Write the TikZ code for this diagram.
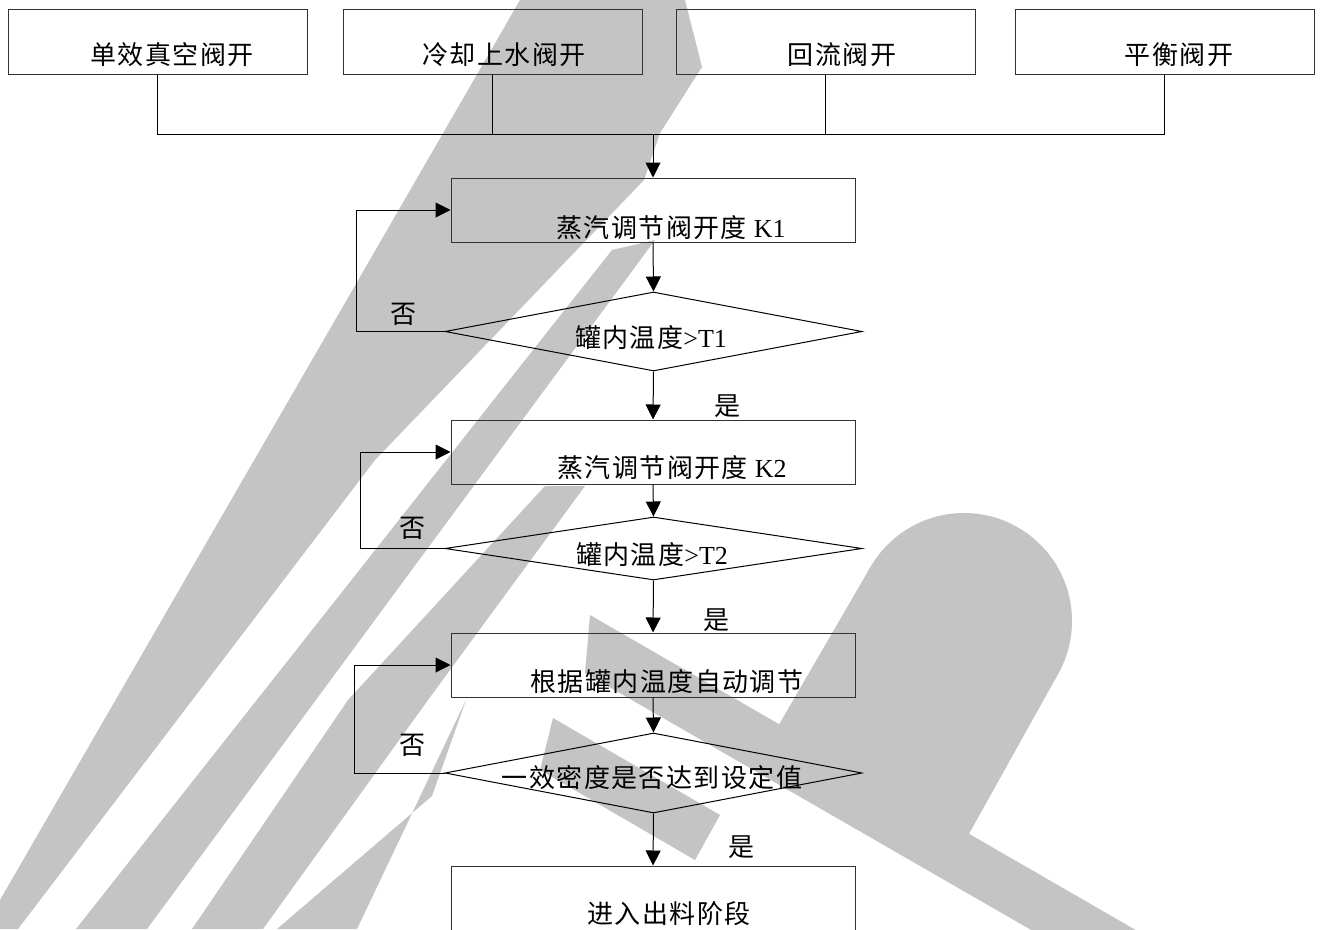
\documentclass[tikz,border=0pt]{standalone}
\usepackage{fontspec}
\setmainfont{Noto Sans CJK SC}[LetterSpace=5.5]
\newfontfamily\lat{Liberation Serif}
\usetikzlibrary{arrows.meta,shapes.geometric}
\definecolor{wmgray}{RGB}{196,196,196}
\definecolor{edge}{RGB}{50,50,50}
\begin{document}
\begin{tikzpicture}[x=1pt,y=-1pt,
  tbox/.style={draw=edge,line width=1pt,minimum width=299pt,minimum height=65pt,inner sep=0pt},
  box/.style={draw=edge,line width=1pt,minimum width=404pt,minimum height=64pt,inner sep=0pt},
  dec/.style={draw=black,line width=1pt,diamond,minimum width=417pt,inner sep=0pt},
  lbl/.style={inner sep=0pt,font=\fontsize{26}{26}\selectfont},
  conn/.style={draw=black,line width=1pt},
  arr/.style={conn,-{Triangle[length=15pt,width=15pt]}},
  wm/.style={fill=wmgray,draw=none}]
\path[use as bounding box] (0,0) rectangle (1322,929);
\clip (0,0) rectangle (1322,929);
\fill[white] (0,0) rectangle (1322,929);
% watermark
\path[wm] (520,0) -- (685,0) -- (702,67) -- (660,133) -- (644,180) -- (375,460) -- (18,929) -- (0,929) -- (0,900) -- cycle;
\path[wm] (612,250) -- (655,240) -- (147,929) -- (76,929) -- cycle;
\path[wm] (545,486) -- (585,486) -- (428,700) -- (263,929) -- (192,929) -- (348,700) -- cycle;
\path[wm] (466,700) -- (357,929) -- (277,929) -- (432,796) -- cycle;
\path[wm] (590,615) -- (1250,996) -- (1250,1056) -- (585,673) -- cycle;
\path[wm] (553,718) -- (720,815) -- (695,860) -- (540,770) -- cycle;
\path[wm] (964,621) circle[radius=108];
\path[wm] (870.5,567) -- (1057.5,675) -- (960,850) -- (770,740) -- cycle;
% top boxes
\node[tbox] (t1) at (157.5,41.5) {};
\node[tbox] (t2) at (492.5,41.5) {};
\node[tbox] (t3) at (825.5,41.5) {};
\node[tbox] (t4) at (1164.5,41.5) {};
\node[lbl] (t1l) at (172,55) {单效真空阀开};
\node[lbl] (t2l) at (504,55) {冷却上水阀开};
\node[lbl] (t3l) at (842,55) {回流阀开};
\node[lbl] (t4l) at (1179,55) {平衡阀开};
% main column
\node[box] (k1) at (653,210) {};
\node[lbl] (k1l) at (671,228) {蒸汽调节阀开度\hspace{7pt}{\lat K1}};
\node[dec,minimum height=79pt] (d1) at (653.5,331.5) {};
\node[lbl] (d1l) at (651,338) {罐内温度{\lat >T1}};
\node[box] (k2) at (653,452) {};
\node[lbl] (k2l) at (672,468) {蒸汽调节阀开度\hspace{7pt}{\lat K2}};
\node[dec,minimum height=63pt] (d2) at (653.5,548.5) {};
\node[lbl] (d2l) at (652,555) {罐内温度{\lat >T2}};
\node[box] (b3) at (653,665) {};
\node[lbl] (b3l) at (667,682) {根据罐内温度自动调节};
\node[dec,minimum height=80pt] (d3) at (653.5,773) {};
\node[lbl] (d3l) at (652,778) {一效密度是否达到设定值};
\node[box] (b4) at (653,898) {};
\node[lbl] (b4l) at (669,914) {进入出料阶段};
% labels
\node[lbl] (n1) at (403,314) {否};
\node[lbl] (n2) at (412,528) {否};
\node[lbl] (n3) at (412,745) {否};
\node[lbl] (y1) at (727,406) {是};
\node[lbl] (y2) at (716,620) {是};
\node[lbl] (y3) at (741,847) {是};
% connectors
\coordinate (bus) at (653,134);
\draw[conn] (t1.south) -- (t1.south |- bus) -- (t4.south |- bus) -- (t4.south);
\draw[conn] (t2.south) -- (t2.south |- bus);
\draw[conn] (t3.south) -- (t3.south |- bus);
\draw[arr] (bus) -- (k1.north);
\draw[arr] (k1.south) -- (d1.north);
\draw[arr] (d1.south) -- (k2.north);
\draw[arr] (k2.south) -- (d2.north);
\draw[arr] (d2.south) -- (b3.north);
\draw[arr] (b3.south) -- (d3.north);
\draw[arr] (d3.south) -- (b4.north);
\draw[arr] (d1.west) -- ++(-88,0) |- (k1.west);
\draw[arr] (d2.west) -- ++(-84,0) |- (k2.west);
\draw[arr] (d3.west) -- ++(-90,0) |- (b3.west);
\end{tikzpicture}
\end{document}
